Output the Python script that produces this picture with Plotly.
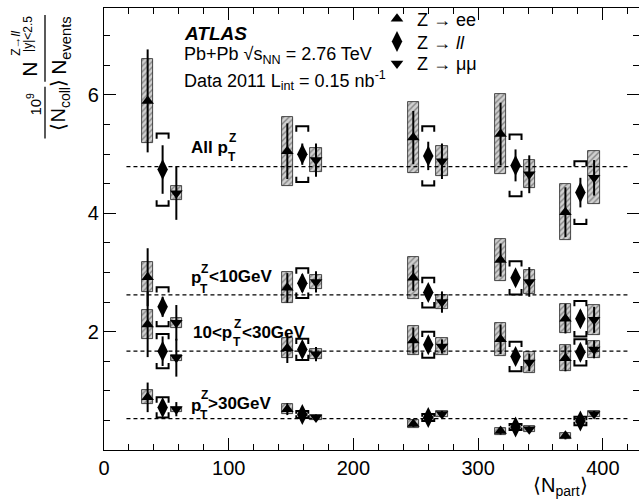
import plotly.graph_objects as go

# ---------------- data ----------------
npart = [47, 159, 260, 330, 382]          # <N_part> of the centrality bins (Z->ll points)
bins = ["all", "lt10", "10to30", "gt30"]
ref_levels = [4.79, 2.62, 1.67, 0.53]      # dashed reference levels per pT bin
ref_span = [18, 420]                        # N_part extent of the dashed lines

# Z -> ee
ee_val = {"all": [5.90, 5.05, 5.28, 5.34, 4.02],
          "lt10": [2.92, 2.74, 2.91, 3.21, 2.22],
          "10to30": [2.12, 1.72, 1.85, 1.87, 1.55],
          "gt30": [0.89, 0.69, 0.44, 0.32, 0.24]}
ee_stat = {"all": [0.87, 0.47, 0.45, 0.53, 0.42],
           "lt10": [0.49, 0.25, 0.22, 0.28, 0.25],
           "10to30": [0.55, 0.25, 0.22, 0.25, 0.22],
           "gt30": [0.25, 0.10, 0.05, 0.06, 0.06]}
ee_syst = {"all": [0.71, 0.58, 0.60, 0.68, 0.47],
           "lt10": [0.25, 0.26, 0.35, 0.35, 0.25],
           "10to30": [0.25, 0.17, 0.25, 0.28, 0.22],
           "gt30": [0.12, 0.08, 0.07, 0.06, 0.05]}

# Z -> ll (combined)
ll_val = {"all": [4.74, 5.00, 4.97, 4.81, 4.35],
          "lt10": [2.42, 2.82, 2.66, 2.91, 2.22],
          "10to30": [1.67, 1.70, 1.78, 1.58, 1.65],
          "gt30": [0.72, 0.60, 0.55, 0.39, 0.49]}
ll_stat = {"all": [0.41, 0.18, 0.24, 0.27, 0.25],
           "lt10": [0.17, 0.15, 0.12, 0.13, 0.14],
           "10to30": [0.25, 0.12, 0.12, 0.12, 0.12],
           "gt30": [0.10, 0.05, 0.05, 0.05, 0.06]}
ll_syst = {"all": [0.61, 0.47, 0.50, 0.52, 0.53],
           "lt10": [0.33, 0.25, 0.25, 0.28, 0.30],
           "10to30": [0.29, 0.18, 0.22, 0.25, 0.22],
           "gt30": [0.17, 0.06, 0.06, 0.05, 0.07]}

# Z -> mumu
mm_val = {"all": [4.34, 4.90, 4.88, 4.66, 4.60],
          "lt10": [2.15, 2.84, 2.50, 2.84, 2.20],
          "10to30": [1.56, 1.62, 1.75, 1.48, 1.70],
          "gt30": [0.69, 0.55, 0.61, 0.35, 0.61]}
mm_stat = {"all": [0.45, 0.28, 0.30, 0.32, 0.30],
           "lt10": [0.30, 0.18, 0.18, 0.25, 0.22],
           "10to30": [0.32, 0.12, 0.12, 0.15, 0.15],
           "gt30": [0.12, 0.05, 0.05, 0.05, 0.05]}
mm_syst = {"all": [0.12, 0.20, 0.25, 0.24, 0.45],
           "lt10": [0.08, 0.12, 0.12, 0.20, 0.25],
           "10to30": [0.05, 0.08, 0.15, 0.18, 0.15],
           "gt30": [0.04, 0.05, 0.05, 0.05, 0.05]}

xticks = [0, 100, 200, 300, 400]
yticks = [2, 4, 6]

# ---------------- style ----------------
FONT = "Liberation Sans, Arial, Helvetica, sans-serif"
DX_EE, DX_MM = -12, 11
BOX_W = 9
BR_W, BR_H = 4.8, 0.09
W, H = 639, 502
ML, MR, MT, MB = 104, 0, 6, 52
PW, PH = W - ML - MR, H - MT - MB


def px(x, y):
    return (x - ML) / PW, (H - MB - y) / PH


fig = go.Figure()

# dashed reference lines
for lvl in ref_levels:
    fig.add_trace(go.Scatter(x=ref_span, y=[lvl, lvl], mode="lines",
                             line=dict(color="black", width=1.3, dash="4px,3px"),
                             showlegend=False, hoverinfo="skip"))

hatch = dict(shape="/", fgcolor="#3a3a3a", bgcolor="#d0d0d0", size=4, solidity=0.35)


def xs(off):
    return [n + off for n in npart]


# systematic boxes for ee and mumu
for b in bins:
    for val, syst, off in ((ee_val, ee_syst, DX_EE), (mm_val, mm_syst, DX_MM)):
        fig.add_trace(go.Bar(x=xs(off), y=[2 * s for s in syst[b]],
                             base=[v - s for v, s in zip(val[b], syst[b])],
                             width=BOX_W, marker=dict(color="#d0d0d0", pattern=hatch,
                                                      line=dict(color="#202020", width=0.8)),
                             showlegend=False, hoverinfo="skip"))

# bracket systematics for ll
bx, by = [], []
for b in bins:
    for x, v, s in zip(npart, ll_val[b], ll_syst[b]):
        h = min(BR_H, s * 0.8)
        top, bot = v + s, v - s
        bx += [x - BR_W, x - BR_W, x + BR_W, x + BR_W, None]
        by += [top - h, top, top, top - h, None]
        bx += [x - BR_W, x - BR_W, x + BR_W, x + BR_W, None]
        by += [bot + h, bot, bot, bot + h, None]
fig.add_trace(go.Scatter(x=bx, y=by, mode="lines", line=dict(color="black", width=2),
                         showlegend=False, hoverinfo="skip"))

# points with statistical errors
chans = [("Z → ee", ee_val, ee_stat, DX_EE, "triangle-up", 11, "legend"),
         ("Z → <i>ll</i>", ll_val, ll_stat, 0, "diamond-tall", 15, "legend2"),
         ("Z → μμ", mm_val, mm_stat, DX_MM, "triangle-down", 11, "legend3")]
for name, val, stat, off, sym, sz, leg in chans:
    for i, b in enumerate(bins):
        fig.add_trace(go.Scatter(
            x=xs(off), y=val[b], mode="markers", name=name, legend=leg,
            marker=dict(symbol=sym, size=sz, color="black"),
            error_y=dict(type="data", array=stat[b], color="black", thickness=2, width=0),
            showlegend=(i == 0), hoverinfo="skip"))

ann = []


def text(x, y, t, size=18, bold=False, italic=False, anchor="left", angle=0):
    if bold:
        t = "<b>" + t + "</b>"
    if italic:
        t = "<i>" + t + "</i>"
    xp, yp = px(x, y)
    ann.append(dict(x=xp, y=yp, xref="paper", yref="paper", text=t, showarrow=False,
                    xanchor=anchor, yanchor="middle", textangle=angle,
                    font=dict(family=FONT, size=size, color="black")))


# header
text(182, 32, "ATLAS", 19, bold=True, italic=True)
text(182, 54, "Pb+Pb √s<sub>NN</sub> = 2.76 TeV", 18)
text(182, 79, "Data 2011 L<sub>int</sub> = 0.15 nb<sup>-1</sup>", 18)

# bin labels
text(189, 146, "All p", 17, bold=True)
text(227, 137, "Z", 12, bold=True)
text(226, 156, "T", 12, bold=True)

text(189, 277, "p", 17, bold=True)
text(199, 268, "Z", 12, bold=True)
text(198, 288, "T", 12, bold=True)
text(207, 276, "<10GeV", 17, bold=True)

text(191, 332, "10<p", 17, bold=True)
text(232, 323, "Z", 12, bold=True)
text(231, 342, "T", 12, bold=True)
text(240, 332, "<30GeV", 17, bold=True)

text(189, 405, "p", 17, bold=True)
text(199, 395, "Z", 12, bold=True)
text(198, 415, "T", 12, bold=True)
text(206, 403, ">30GeV", 17, bold=True)

# x title
text(560, 487, "⟨N<sub>part</sub>⟩", 20, anchor="center")

# y title (two fractions, rotated)
text(34, 103, "10<sup>9</sup>", 15, anchor="center", angle=-90)
text(60, 104, "⟨N<sub>coll</sub>⟩", 20, anchor="center", angle=-90)
text(30, 68, "N", 21, anchor="center", angle=-90)
text(16, 42, "Z→<i>ll</i>", 12, anchor="center", angle=-90)
text(28, 32, "|y|<2.5", 12, anchor="center", angle=-90)
text(60, 44, "N<sub>events</sub>", 21, anchor="center", angle=-90)

shapes = []
for (x0, y0, y1) in ((45, 85, 137), (45, 13, 80)):
    a, b0 = px(x0, y0)
    _, b1 = px(x0, y1)
    shapes.append(dict(type="line", xref="paper", yref="paper", x0=a, x1=a, y0=b0, y1=b1,
                       line=dict(color="black", width=1.3)))

axis_common = dict(showline=True, linecolor="black", linewidth=1.3, mirror="ticks",
                   ticks="inside", ticklen=12, tickwidth=1.3, tickcolor="black",
                   showgrid=False, zeroline=False,
                   tickfont=dict(family=FONT, size=20, color="black"))

leg_common = dict(xanchor="left", yanchor="middle", bgcolor="rgba(0,0,0,0)",
                  font=dict(family=FONT, size=18, color="black"), itemwidth=30)
lx = px(377, 0)[0]

fig.update_layout(
    width=W, height=H,
    margin=dict(l=ML, r=MR, t=MT, b=MB, pad=0),
    paper_bgcolor="white", plot_bgcolor="white",
    barmode="overlay", bargap=0,
    xaxis=dict(range=[0, 429], tickvals=xticks,
               minor=dict(dtick=20, tick0=0, ticklen=6, ticks="inside", tickcolor="black"),
               **axis_common),
    yaxis=dict(range=[0, 7.47], tickvals=yticks,
               minor=dict(dtick=0.5, tick0=0, ticklen=6, ticks="inside", tickcolor="black"),
               **axis_common),
    legend=dict(x=lx, y=px(0, 17)[1], **leg_common),
    legend2=dict(x=lx, y=px(0, 40)[1], **leg_common),
    legend3=dict(x=lx, y=px(0, 62)[1], **leg_common),
    annotations=ann, shapes=shapes,
    font=dict(family=FONT, color="black"),
)

fig.write_html("out.html", config={"displayModeBar": False},
               post_script="document.body.style.margin='0px';"
                           "document.body.style.overflow='hidden';")
